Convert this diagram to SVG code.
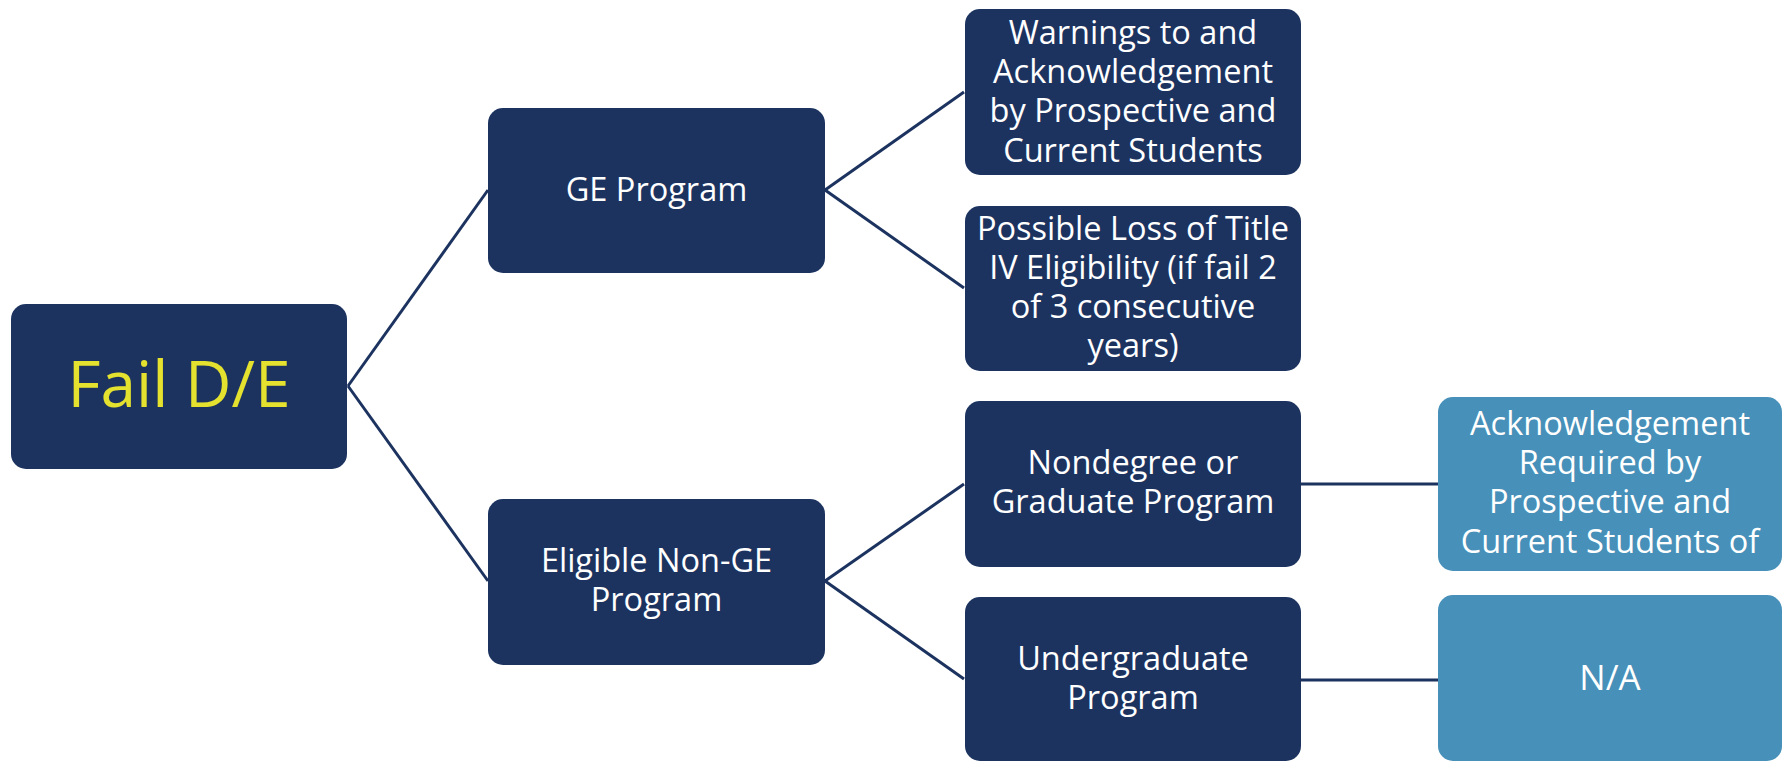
<svg xmlns="http://www.w3.org/2000/svg" width="1783" height="761" viewBox="0 0 1783 761">
<style>
.dark{fill:#1C3360;}
.light{fill:#4690B9;}
.t{font-family:"Open Sans","Liberation Sans",sans-serif;font-size:32.5px;fill:#FFFFFF;text-anchor:middle;}
.big{font-family:"Open Sans","Liberation Sans",sans-serif;font-size:64px;fill:#E4E22E;text-anchor:middle;}
.c{stroke:#1C3360;stroke-width:3;fill:none;}
</style>
<rect width="1783" height="761" fill="#FFFFFF"/>
<g id="connectors">
<line class="c" x1="348" y1="386" x2="488" y2="190"/>
<line class="c" x1="348" y1="386" x2="488" y2="581"/>
<line class="c" x1="825" y1="190" x2="964" y2="92"/>
<line class="c" x1="825" y1="190" x2="964" y2="288"/>
<line class="c" x1="825" y1="581" x2="964" y2="484"/>
<line class="c" x1="825" y1="581" x2="964" y2="679"/>
<line class="c" x1="1301" y1="484" x2="1438" y2="484"/>
<line class="c" x1="1301" y1="680" x2="1438" y2="680"/>
</g>
<g id="fail">
<rect class="dark" x="11" y="304" width="336" height="165" rx="15"/>
<text class="big" x="179" y="407">Fail D/E</text>
</g>
<g id="ge">
<rect class="dark" x="488" y="108" width="337" height="165" rx="15"/>
<text class="t" x="656.5" y="201">GE Program</text>
</g>
<g id="nonge">
<rect class="dark" x="488" y="499" width="337" height="166" rx="15"/>
<text class="t" x="656.5" y="572">Eligible Non-GE</text>
<text class="t" x="656.5" y="611">Program</text>
</g>
<g id="warnings">
<rect class="dark" x="965" y="9" width="336" height="166" rx="15"/>
<text class="t" x="1133" y="44">Warnings to and</text>
<text class="t" x="1133" y="83">Acknowledgement</text>
<text class="t" x="1133" y="122">by Prospective and</text>
<text class="t" x="1133" y="162">Current Students</text>
</g>
<g id="loss">
<rect class="dark" x="965" y="206" width="336" height="165" rx="15"/>
<text class="t" x="1133" y="240">Possible Loss of Title</text>
<text class="t" x="1133" y="279">IV Eligibility (if fail 2</text>
<text class="t" x="1133" y="318">of 3 consecutive</text>
<text class="t" x="1133" y="357">years)</text>
</g>
<g id="nondegree">
<rect class="dark" x="965" y="401" width="336" height="166" rx="15"/>
<text class="t" x="1133" y="474">Nondegree or</text>
<text class="t" x="1133" y="513">Graduate Program</text>
</g>
<g id="undergrad">
<rect class="dark" x="965" y="597" width="336" height="164" rx="15"/>
<text class="t" x="1133" y="670">Undergraduate</text>
<text class="t" x="1133" y="709">Program</text>
</g>
<g id="ack">
<rect class="light" x="1438" y="397" width="344" height="174" rx="15"/>
<text class="t" x="1610" y="435">Acknowledgement</text>
<text class="t" x="1610" y="474">Required by</text>
<text class="t" x="1610" y="513">Prospective and</text>
<text class="t" x="1610" y="553">Current Students of</text>
</g>
<g id="na">
<rect class="light" x="1438" y="595" width="344" height="166" rx="15"/>
<text class="t" x="1610" y="690" style="font-size:35px">N/A</text>
</g>
</svg>
